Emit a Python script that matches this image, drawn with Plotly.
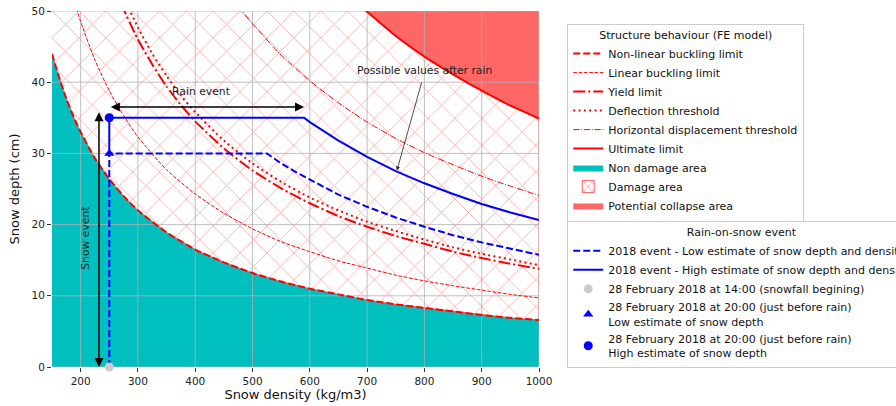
import plotly.graph_objects as go

# ---------------- data ----------------
x_ticks = [200, 300, 400, 500, 600, 700, 800, 900, 1000]
y_ticks = [0, 10, 20, 30, 40, 50]
x_range = [150, 1000]
y_range = [0, 50]
fill_top = 60  # upper bound used to close filled areas (clipped by axis)

# Non-linear buckling limit (boundary of the non damage area)
nl_dens = [150, 160, 175, 190, 200, 225, 250, 275, 300, 350, 400, 450, 500,
           550, 600, 650, 700, 750, 800, 850, 900, 950, 1000]
nl_depth = [44.0, 41.3, 37.7, 34.7, 33.0, 29.3, 26.4, 24.0, 22.0, 18.9, 16.5,
            14.7, 13.2, 12.0, 11.0, 10.2, 9.4, 8.8, 8.3, 7.8, 7.3, 6.9, 6.6]

# Linear buckling limit
lb_dens = [190, 200, 225, 250, 275, 300, 350, 400, 450, 500, 550, 600, 650,
           700, 750, 800, 850, 900, 950, 1000]
lb_depth = [51.1, 48.5, 43.1, 38.8, 35.3, 32.3, 27.7, 24.3, 21.6, 19.4, 17.6,
            16.2, 14.9, 13.9, 12.9, 12.1, 11.4, 10.8, 10.2, 9.7]

# Yield limit
yl_dens = [270, 300, 325, 350, 375, 400, 450, 500, 550, 600, 650, 700, 750,
           800, 850, 900, 950, 1000]
yl_depth = [51.1, 46.0, 42.5, 39.4, 36.8, 34.5, 30.7, 27.6, 25.1, 23.0, 21.2,
            19.7, 18.4, 17.3, 16.2, 15.3, 14.5, 13.8]

# Deflection threshold
df_dens = [280, 300, 325, 350, 375, 400, 450, 500, 550, 600, 650, 700, 750,
           800, 850, 900, 950, 1000]
df_depth = [51.1, 47.7, 44.0, 40.9, 38.1, 35.8, 31.8, 28.6, 26.0, 23.8, 22.0,
            20.4, 19.1, 17.9, 16.8, 15.9, 15.1, 14.3]

# Horizontal displacement threshold
hd_dens = [475, 500, 550, 600, 650, 700, 750, 800, 850, 900, 950, 1000]
hd_depth = [50.7, 48.2, 43.8, 40.2, 37.1, 34.4, 32.1, 30.1, 28.4, 26.8, 25.4,
            24.1]

# Ultimate limit
ul_dens = [690, 700, 750, 800, 850, 900, 950, 1000]
ul_depth = [50.6, 49.9, 46.5, 43.6, 41.1, 38.8, 36.7, 34.9]

# 2018 event - low estimate
low_dens = [250, 250, 525, 550, 575, 600, 650, 700, 750, 800, 850, 900, 950, 1000]
low_depth = [0, 30, 30, 28.6, 27.4, 26.3, 24.2, 22.5, 21.0, 19.7, 18.5, 17.5,
             16.6, 15.75]

# 2018 event - high estimate
high_dens = [250, 250, 590, 600, 650, 700, 750, 800, 850, 900, 950, 1000]
high_depth = [30, 35, 35, 34.4, 31.8, 29.5, 27.5, 25.8, 24.3, 22.9, 21.7, 20.65]

# Key points
pt_start = (250, 0)
pt_low = (250, 30)
pt_high = (250, 35)

# Annotation anchors
rain_arrow = dict(x0=250, x1=590, y=36.5)
snow_arrow = dict(x=232, y0=36.0, y1=0)
rain_text = (410, 38.7)
snow_text = (207, 18.1)
after_text = (800, 41.6)
after_arrow = dict(tail=(796, 40.2), head=(752, 27.6))

FONT = "DejaVu Sans"
RED = "#ff0000"
BLUE = "#0000ff"
HATCH = "rgba(255,40,40,0.72)"

fig = go.Figure()

# ---------------- filled areas ----------------
fig.add_trace(go.Scatter(
    x=nl_dens, y=nl_depth, mode="lines", fill="tozeroy",
    fillcolor="#00bfbf", line=dict(width=0, color="#00bfbf"),
    name="Non damage area", legend="legend", legendrank=7, hoverinfo="skip"))

fig.add_trace(go.Scatter(
    x=nl_dens + nl_dens[::-1], y=nl_depth + [fill_top] * len(nl_dens),
    mode="lines", fill="toself", fillcolor="white",
    fillpattern=dict(shape="x", size=19, solidity=0.1,
                     fgcolor=HATCH, bgcolor="white"),
    line=dict(width=1, color=HATCH),
    showlegend=False, hoverinfo="skip"))

# legend swatch for the hatched damage area
fig.add_trace(go.Bar(
    x=[None], y=[None], name="Damage area", legend="legend", legendrank=8,
    marker=dict(color="white", line=dict(color=HATCH, width=1),
                pattern=dict(shape="x", size=7, solidity=0.3,
                             fgcolor="rgba(255,0,0,0.65)", bgcolor="white",
                             fillmode="overlay")),
    hoverinfo="skip"))

fig.add_trace(go.Scatter(
    x=ul_dens + ul_dens[::-1], y=ul_depth + [fill_top] * len(ul_dens),
    mode="lines", fill="toself", fillcolor="#ff6666",
    line=dict(width=0, color="#ff6666"),
    name="Potential collapse area", legend="legend", legendrank=9,
    hoverinfo="skip"))

# ---------------- grid (above fills) ----------------
gx, gy = [], []
for t in x_ticks:
    gx += [t, t, None]
    gy += [y_range[0], y_range[1], None]
for t in y_ticks:
    gx += [x_range[0], x_range[1], None]
    gy += [t, t, None]
fig.add_trace(go.Scatter(x=gx, y=gy, mode="lines",
                         line=dict(color="#b0b0b0", width=0.8),
                         showlegend=False, hoverinfo="skip"))

# ---------------- limit curves ----------------
def curve(xs, ys, name, width, dash, rank):
    fig.add_trace(go.Scatter(
        x=xs, y=ys, mode="lines", name=name,
        line=dict(color=RED, width=width, dash=dash, shape="spline", smoothing=0.6),
        legend="legend", legendrank=rank, hoverinfo="skip"))

curve(nl_dens, nl_depth, "Non-linear buckling limit", 2, "7px,3px", 1)
curve(lb_dens, lb_depth, "Linear buckling limit", 1, "3.7px,1.6px", 2)
curve(yl_dens, yl_depth, "Yield limit", 2, "12px,3px,2px,3px", 3)
curve(df_dens, df_depth, "Deflection threshold", 2, "2px,3.3px", 4)
curve(hd_dens, hd_depth, "Horizontal displacement threshold", 1,
      "6.4px,1.6px,1px,1.6px", 5)
curve(ul_dens, ul_depth, "Ultimate limit", 2, "solid", 6)

# ---------------- rain-on-snow event ----------------
fig.add_trace(go.Scatter(
    x=low_dens, y=low_depth, mode="lines",
    name="2018 event - Low estimate of snow depth and density",
    line=dict(color=BLUE, width=2, dash="7px,3px"),
    legend="legend2", legendrank=1, hoverinfo="skip"))
fig.add_trace(go.Scatter(
    x=high_dens, y=high_depth, mode="lines",
    name="2018 event - High estimate of snow depth and density",
    line=dict(color=BLUE, width=2),
    legend="legend2", legendrank=2, hoverinfo="skip"))
fig.add_trace(go.Scatter(
    x=[pt_start[0]], y=[pt_start[1]], mode="markers",
    name="28 February 2018 at 14:00 (snowfall begining)",
    marker=dict(color="#cccccc", size=9, symbol="circle"),
    legend="legend2", legendrank=3, cliponaxis=False, hoverinfo="skip"))
fig.add_trace(go.Scatter(
    x=[pt_low[0]], y=[pt_low[1]], mode="markers",
    name="28 February 2018 at 20:00 (just before rain)<br>Low estimate of snow depth",
    marker=dict(color=BLUE, size=9, symbol="triangle-up"),
    legend="legend2", legendrank=4, hoverinfo="skip"))
fig.add_trace(go.Scatter(
    x=[pt_high[0]], y=[pt_high[1]], mode="markers",
    name="28 February 2018 at 20:00 (just before rain)<br>High estimate of snow depth",
    marker=dict(color=BLUE, size=9, symbol="circle"),
    legend="legend2", legendrank=5, hoverinfo="skip"))

# ---------------- annotations ----------------
ann_font = dict(family=FONT, size=10.8, color="#222222")
annotations = [
    dict(x=rain_arrow["x1"], y=rain_arrow["y"], ax=rain_arrow["x0"], ay=rain_arrow["y"],
         xref="x", yref="y", axref="x", ayref="y", text="", showarrow=True,
         arrowhead=2, startarrowhead=2, arrowside="end+start", arrowsize=1.2,
         startarrowsize=1.2, arrowwidth=1.5, arrowcolor="black", standoff=0, startstandoff=0),
    dict(x=snow_arrow["x"], y=snow_arrow["y1"], ax=snow_arrow["x"], ay=snow_arrow["y0"],
         xref="x", yref="y", axref="x", ayref="y", text="", showarrow=True,
         arrowhead=2, startarrowhead=2, arrowside="end+start", arrowsize=1.2,
         startarrowsize=1.2, arrowwidth=1.5, arrowcolor="black", standoff=0, startstandoff=0),
    dict(x=after_arrow["head"][0], y=after_arrow["head"][1],
         ax=after_arrow["tail"][0], ay=after_arrow["tail"][1],
         xref="x", yref="y", axref="x", ayref="y", text="", showarrow=True,
         arrowhead=2, arrowsize=1, arrowwidth=0.8, arrowcolor="#222222", standoff=0),
    dict(x=rain_text[0], y=rain_text[1], xref="x", yref="y", text="Rain event",
         showarrow=False, font=ann_font),
    dict(x=snow_text[0], y=snow_text[1], xref="x", yref="y", text="Snow event",
         showarrow=False, textangle=-90, font=ann_font),
    dict(x=after_text[0], y=after_text[1], xref="x", yref="y",
         text="Possible values after rain", showarrow=False, font=ann_font),
]

legend_common = dict(
    bgcolor="rgba(255,255,255,0.9)", bordercolor="#cccccc", borderwidth=1,
    font=dict(family=FONT, size=11, color="#111111"),
    xanchor="left", yanchor="top", itemwidth=30, tracegroupgap=0,
)

fig.update_layout(
    width=896, height=406,
    margin=dict(l=52, r=357, t=11, b=39, autoexpand=False),
    paper_bgcolor="white", plot_bgcolor="white",
    font=dict(family=FONT, size=10, color="#222222"),
    annotations=annotations,
    barmode="overlay",
    legend=dict(x=1.058, y=0.964,
                title=dict(text="Structure behaviour (FE model)", side="top center",
                           font=dict(family=FONT, size=11)),
                **legend_common),
    legend2=dict(x=1.058, y=0.41,
                 title=dict(text="Rain-on-snow event", side="top center",
                            font=dict(family=FONT, size=11)),
                 **legend_common),
    xaxis=dict(range=x_range, tickvals=x_ticks, showgrid=False, zeroline=False,
               showline=False, ticks="outside", ticklen=4, tickcolor="#333333",
               tickfont=dict(family=FONT, size=10.5, color="#222222"),
               title=dict(text="Snow density (kg/m3)", standoff=4,
                          font=dict(family=FONT, size=13, color="#111111"))),
    yaxis=dict(range=y_range, tickvals=y_ticks, showgrid=False, zeroline=False,
               showline=False, ticks="outside", ticklen=4, tickcolor="#333333",
               tickfont=dict(family=FONT, size=10.5, color="#222222"),
               title=dict(text="Snow depth (cm)", standoff=8,
                          font=dict(family=FONT, size=13, color="#111111"))),
)

fig.write_html("out.html")
